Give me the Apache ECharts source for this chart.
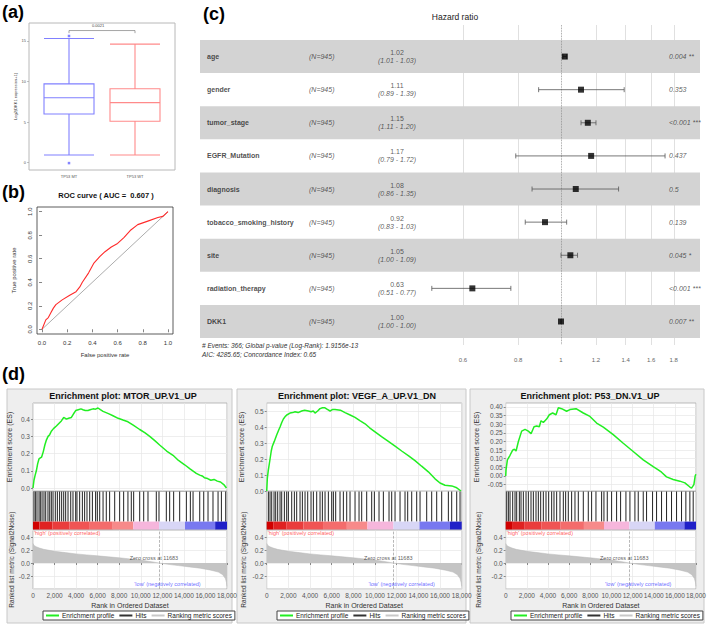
<!DOCTYPE html>
<html><head><meta charset="utf-8">
<script src="https://cdn.jsdelivr.net/npm/echarts@6/dist/echarts.min.js"></script>
<style>html,body{margin:0;padding:0;background:#fff}#c{width:709px;height:624px}</style>
</head><body><div id="c"></div>
<script>
// ---------- (a) box plot ----------
const boxCategories = ['TP53 MT', 'TP53 WT'];
const boxStats = [[0.95, 6.0, 8.0, 9.7, 15.3], [0.95, 5.1, 7.4, 9.1, 14.6]];
const boxOutliers = [[0, 15.6], [0, -0.05]];
const boxTicks = [0, 5, 10, 15];
const boxPValue = '0.0021';
// ---------- (b) ROC ----------
const rocCurve = [[0,0],[0.03,0.08],[0.05,0.10],[0.07,0.14],[0.09,0.18],[0.11,0.21],[0.16,0.25],[0.22,0.29],[0.27,0.32],[0.30,0.36],[0.32,0.40],[0.37,0.48],[0.41,0.56],[0.46,0.62],[0.50,0.66],[0.55,0.70],[0.60,0.73],[0.65,0.78],[0.70,0.84],[0.76,0.89],[0.84,0.92],[0.92,0.95],[0.96,0.96],[1,1]];
const rocAUC = '0.607';
const rocTicks = [0, 0.2, 0.4, 0.6, 0.8, 1.0];
// ---------- (c) forest ----------
const hrVars = ['age','gender','tumor_stage','EGFR_Mutation','diagnosis','tobacco_smoking_history','site','radiation_therapy','DKK1'];
const hrN = 945;
const hrEst = [1.02, 1.11, 1.15, 1.17, 1.08, 0.92, 1.05, 0.63, 1.00];
const hrLow = [1.01, 0.89, 1.11, 0.79, 0.86, 0.83, 1.00, 0.51, 1.00];
const hrHigh = [1.03, 1.39, 1.20, 1.72, 1.35, 1.03, 1.09, 0.77, 1.00];
const hrP = ['0.004 **','0.353','<0.001 ***','0.437','0.5','0.139','0.045 *','<0.001 ***','0.007 **'];
const hrTicks = [0.6, 0.8, 1, 1.2, 1.4, 1.6, 1.8];
const hrFooter = ['# Events: 366; Global p-value (Log-Rank): 1.9156e-13', 'AIC: 4285.65; Concordance Index: 0.65'];
// ---------- (d) GSEA ----------
const gseaTitles = ['Enrichment plot: MTOR_UP.V1_UP', 'Enrichment plot: VEGF_A_UP.V1_DN', 'Enrichment plot: P53_DN.V1_UP'];
const esCurve1 = [[0,0],[90,0.045],[200,0.075],[310,0.10],[430,0.14],[560,0.17],[680,0.175],[800,0.18],[950,0.21],[1100,0.25],[1250,0.28],[1400,0.30],[1550,0.31],[1700,0.33],[1900,0.345],[2170,0.36],[2400,0.375],[2630,0.39],[2850,0.41],[3000,0.405],[3100,0.40],[3300,0.405],[3560,0.41],[3750,0.43],[3960,0.45],[4200,0.455],[4450,0.46],[4640,0.455],[4850,0.45],[5100,0.45],[5300,0.455],[5570,0.46],[5800,0.458],[6030,0.465],[6250,0.455],[6500,0.445],[7000,0.432],[7420,0.42],[7900,0.405],[8350,0.395],[8810,0.385],[9300,0.365],[9900,0.34],[10400,0.32],[10830,0.30],[11300,0.275],[11750,0.25],[12400,0.215],[12990,0.19],[13500,0.16],[14070,0.135],[14600,0.11],[15150,0.085],[15470,0.075],[15700,0.07],[15900,0.06],[16200,0.055],[16500,0.045],[16800,0.05],[17100,0.04],[17400,0.035],[17700,0.02],[17950,0]];
const esCurve2 = [[0,0],[60,0.08],[150,0.13],[310,0.20],[420,0.25],[520,0.28],[700,0.31],[920,0.35],[1100,0.38],[1230,0.40],[1400,0.43],[1540,0.45],[1700,0.465],[1850,0.475],[2150,0.487],[2400,0.49],[2620,0.495],[2900,0.49],[3230,0.50],[3500,0.505],[3850,0.50],[4100,0.495],[4300,0.50],[4460,0.487],[4700,0.50],[4920,0.515],[5150,0.52],[5380,0.52],[5600,0.51],[5850,0.50],[6100,0.51],[6310,0.51],[6800,0.505],[7230,0.49],[7700,0.475],[8150,0.46],[8600,0.44],[9080,0.42],[9500,0.395],[10000,0.37],[10600,0.34],[11230,0.31],[11850,0.28],[12460,0.25],[13100,0.22],[13690,0.19],[14300,0.155],[14920,0.12],[15540,0.076],[16000,0.05],[16460,0.036],[17080,0.032],[17540,0.02],[17940,0]];
const esCurve3 = [[0,0],[30,0.035],[160,0.093],[410,0.12],[660,0.15],[820,0.155],[980,0.145],[1200,0.20],[1510,0.26],[1830,0.27],[2140,0.26],[2400,0.245],[2680,0.285],[2930,0.29],[3180,0.285],[3340,0.32],[3560,0.31],[3870,0.33],[4130,0.355],[4440,0.365],[4760,0.355],[4980,0.395],[5290,0.39],[5760,0.375],[6080,0.385],[6650,0.39],[7340,0.365],[7970,0.345],[8600,0.307],[9230,0.283],[10170,0.24],[11120,0.19],[12060,0.142],[13010,0.093],[13950,0.054],[14430,0.035],[14740,0.022],[15210,-0.005],[15840,-0.02],[16470,-0.03],[16950,-0.04],[17420,-0.064],[17580,-0.07],[17800,-0.05],[17920,0.0],[17990,0.01]];
const hits1 = [90,220,370,560,680,840,1020,1180,1390,1550,1700,1860,2070,2260,2470,2660,2850,3030,3250,3500,3710,3960,4080,4330,4580,4790,5010,5260,5510,5810,5970,6190,6500,6800,7110,7580,8040,8410,8810,9120,9340,9900,10270,10670,11440,11690,12370,12680,13050,13610,14230,14600,14850,15470,15840,16240,16700,17170,17480,17880];
const hits2 = [154,308,462,677,831,1015,1231,1385,1631,1846,2000,2308,2554,2769,3077,3292,3539,3785,4092,4308,4615,4923,5139,5385,5692,6000,6154,6369,6769,7077,7385,7692,8154,8523,8769,9231,9692,9938,10369,10769,11292,11538,11846,12308,12769,13015,13385,13846,14154,14769,15231,15692,16154,16769,17077,17539,17846];
const hits3 = [95,252,410,662,882,1040,1292,1449,1670,1922,2142,2394,2615,2867,3087,3308,3560,3812,4064,4347,4568,4820,5135,5450,5670,5922,6237,6552,6867,7340,7812,8127,8537,9072,9293,9608,10017,10490,10868,11372,11750,12222,12537,13010,13325,13892,14270,14742,15215,15687,16160,16632,17042,17420,17735];
const esTicks1 = [0, 0.1, 0.2, 0.3, 0.4];
const esTicks2 = [0, 0.1, 0.2, 0.3, 0.4, 0.5];
const esTicks3 = [-0.05, 0, 0.05, 0.1, 0.15, 0.2, 0.25, 0.3, 0.35, 0.4];
const metricCurve = [[0,0.30],[100,0.27],[300,0.25],[600,0.23],[1000,0.21],[1500,0.195],[2000,0.18],[3000,0.16],[4000,0.14],[5000,0.125],[6000,0.11],[7000,0.095],[8000,0.08],[9000,0.063],[10000,0.045],[11000,0.02],[11683,0],[12500,-0.02],[13500,-0.04],[14500,-0.06],[15500,-0.08],[16500,-0.11],[17200,-0.14],[17600,-0.18],[17850,-0.24],[17950,-0.30],[18000,-0.36]];
const zeroCross = 11683;
const colourBarBreaks = [0, 600, 1800, 3400, 5200, 7400, 9300, 11700, 14100, 16900, 18000];
const rankMax = 18000;

// ---------- styles ----------
const FF = '"Liberation Sans", Arial, sans-serif';
const colourBarColors = ['#d00000','#e02222','#ea3c3c','#f05454','#f46c6c','#f78a8a','#f6b6dc','#d8d6f6','#7878f0','#2020c8'];
const boxColors = ['#8080ff', '#ff8a8a'];

const chart = echarts.init(document.getElementById('c'), null, {renderer: 'svg', width: 709, height: 624});

const grids = [], xAxes = [], yAxes = [], series = [], graphics = [], legends = [];
function addGrid(g) { grids.push(Object.assign({outerBoundsMode: 'none', containLabel: false}, g)); return grids.length - 1; }

// ===== (a) =====
const gA0 = addGrid({left: 29, top: 23, width: 146, height: 147, show: true, borderColor: '#b8b8b8', borderWidth: 1, backgroundColor: '#fff'});
const gA1 = addGrid({left: 36, top: 23, width: 132, height: 147});
xAxes.push({gridIndex: gA0, type: 'value', min: 0, max: 1, show: false});
yAxes.push({gridIndex: gA0, type: 'value', min: -0.9, max: 17.2,
  axisLine: {show: false}, splitLine: {show: false},
  axisTick: {show: true, length: 2, lineStyle: {color: '#999', width: 0.6}, customValues: boxTicks},
  axisLabel: {fontSize: 4, color: '#555', margin: 3, customValues: boxTicks},
  name: 'Log2(DKK1 expression+1)', nameLocation: 'middle', nameGap: 8, nameTextStyle: {fontSize: 4, color: '#333'}});
xAxes.push({gridIndex: gA1, type: 'category', data: boxCategories, axisLine: {show: false}, axisTick: {show: false},
  axisLabel: {fontSize: 4, color: '#555', margin: 4}});
yAxes.push({gridIndex: gA1, type: 'value', min: -0.9, max: 17.2, show: false});
series.push({type: 'boxplot', xAxisIndex: 1, yAxisIndex: 1, boxWidth: [50, 50],
  data: boxStats.map((s, i) => ({value: s, itemStyle: {color: '#fff', borderColor: boxColors[i], borderWidth: 1.1}}))});
series.push({type: 'scatter', xAxisIndex: 1, yAxisIndex: 1, symbol: 'rect', symbolSize: 2.5,
  itemStyle: {color: '#6666ff'}, data: boxOutliers});
series.push({type: 'line', xAxisIndex: 1, yAxisIndex: 1, symbol: 'none', lineStyle: {color: '#666', width: 0.6},
  data: [[0, 15.95], [0, 16.27], [1, 16.27], [1, 15.95]]});
graphics.push({type: 'text', left: 92, top: 23.5, style: {text: boxPValue, fontSize: 4, fill: '#444', fontFamily: FF}});

// ===== (b) =====
const gB = addGrid({left: 37, top: 207, width: 136, height: 127, show: true, borderColor: '#333', borderWidth: 0.8});
xAxes.push({gridIndex: gB, type: 'value', min: -0.04, max: 1.04, axisLine: {show: false}, splitLine: {show: false},
  axisTick: {show: true, length: 3, lineStyle: {color: '#333', width: 0.6}, customValues: rocTicks},
  axisLabel: {fontSize: 6, color: '#333', margin: 6, customValues: rocTicks, formatter: v => v.toFixed(1)},
  name: 'False positive rate', nameLocation: 'middle', nameGap: 18, nameTextStyle: {fontSize: 6, color: '#333'}});
yAxes.push({gridIndex: gB, type: 'value', min: -0.04, max: 1.04, axisLine: {show: false}, splitLine: {show: false},
  axisTick: {show: true, length: 3, lineStyle: {color: '#333', width: 0.6}, customValues: rocTicks},
  axisLabel: {fontSize: 6, color: '#333', margin: 4, rotate: 90, customValues: rocTicks, formatter: v => v.toFixed(1)},
  name: 'True positive rate', nameLocation: 'middle', nameGap: 20, nameTextStyle: {fontSize: 6, color: '#333'}});
series.push({type: 'line', xAxisIndex: 2, yAxisIndex: 2, symbol: 'none', lineStyle: {color: '#888', width: 0.7},
  data: [[0, 0], [1, 1]]});
series.push({type: 'line', xAxisIndex: 2, yAxisIndex: 2, symbol: 'none', lineStyle: {color: '#ff2a2a', width: 1.1},
  data: rocCurve});
graphics.push({type: 'text', x: 106, y: 195, style: {text: 'ROC curve ( AUC =  ' + rocAUC + ' )', fontSize: 7.5, fontWeight: 'bold', fill: '#111', align: 'center', verticalAlign: 'middle', fontFamily: FF}});

// ===== (c) =====
const gC = addGrid({left: 200, top: 40, width: 500, height: 298});
const gF = addGrid({left: 428, top: 25, width: 266, height: 320});
xAxes.push({gridIndex: gC, type: 'value', min: 0, max: 500, show: false});
yAxes.push({gridIndex: gC, type: 'category', data: hrVars, inverse: true, show: false});
xAxes.push({gridIndex: gF, type: 'log', logBase: 10, min: 0.5, max: 2.0, show: false});
yAxes.push({gridIndex: gF, type: 'value', min: -0.953, max: 8.71, inverse: true, show: false});
const xiC = 3, xiF = 4;
series.push({type: 'bar', xAxisIndex: xiC, yAxisIndex: xiC, z: 1, barWidth: '100%', silent: true,
  itemStyle: {color: '#d3d3d3'}, data: hrVars.map((v, i) => i % 2 === 0 ? 500 : '-')});
series.push({type: 'scatter', xAxisIndex: xiC, yAxisIndex: xiC, symbolSize: 0, z: 5,
  label: {show: true, position: 'right', distance: 0, fontSize: 7, fontWeight: 'bold', color: '#222', formatter: p => hrVars[p.dataIndex]},
  data: hrVars.map((v, i) => [7, i])});
series.push({type: 'scatter', xAxisIndex: xiC, yAxisIndex: xiC, symbolSize: 0, z: 5,
  label: {show: true, position: 'right', distance: 0, fontSize: 7, fontStyle: 'italic', color: '#333', formatter: () => '(N=' + hrN + ')'},
  data: hrVars.map((v, i) => [109, i])});
series.push({type: 'scatter', xAxisIndex: xiC, yAxisIndex: xiC, symbolSize: 0, z: 5,
  label: {show: true, position: 'inside', fontSize: 7, color: '#333', lineHeight: 8,
    formatter: p => '{a|' + hrEst[p.dataIndex].toFixed(2) + '}\n{b|(' + hrLow[p.dataIndex].toFixed(2) + ' - ' + hrHigh[p.dataIndex].toFixed(2) + ')}',
    rich: {a: {fontSize: 7, color: '#333', lineHeight: 8}, b: {fontSize: 7, color: '#333', fontStyle: 'italic', lineHeight: 8}}},
  data: hrVars.map((v, i) => [197, i])});
series.push({type: 'scatter', xAxisIndex: xiC, yAxisIndex: xiC, symbolSize: 0, z: 5,
  label: {show: true, position: 'right', distance: 0, fontSize: 7, fontStyle: 'italic', color: '#333', formatter: p => hrP[p.dataIndex]},
  data: hrVars.map((v, i) => [469, i])});
series.push({type: 'custom', xAxisIndex: xiF, yAxisIndex: xiF, z: 4,
  encode: {x: [0, 1], y: 2},
  data: hrVars.map((v, i) => [hrLow[i], hrHigh[i], i]),
  renderItem: (params, api) => {
    const a = api.coord([api.value(0), api.value(2)]);
    const b = api.coord([api.value(1), api.value(2)]);
    const h = 2.5;
    const st = {stroke: '#555', lineWidth: 0.8};
    return {type: 'group', children: [
      {type: 'line', shape: {x1: a[0], y1: a[1], x2: b[0], y2: b[1]}, style: st},
      {type: 'line', shape: {x1: a[0], y1: a[1] - h, x2: a[0], y2: a[1] + h}, style: st},
      {type: 'line', shape: {x1: b[0], y1: b[1] - h, x2: b[0], y2: b[1] + h}, style: st}]};
  }});
series.push({type: 'scatter', xAxisIndex: xiF, yAxisIndex: xiF, z: 6, symbol: 'rect', symbolSize: 6,
  itemStyle: {color: '#000'}, data: hrEst.map((v, i) => [v, i]),
  markLine: {silent: true, symbol: 'none', z: 3,
    label: {show: true, position: 'end', distance: 12, fontSize: 6, color: '#666', formatter: p => String(p.value)},
    data: hrTicks.map(v => ({xAxis: v, lineStyle: v === 1 ? {type: 'dotted', color: '#888', width: 0.8} : {type: 'solid', color: '#d2d2d2', width: 0.7}}))}});
graphics.push({type: 'text', x: 455, y: 17, style: {text: 'Hazard ratio', fontSize: 8.5, fill: '#222', align: 'center', verticalAlign: 'middle', fontFamily: FF}});
hrFooter.forEach((t, i) => graphics.push({type: 'text', x: 202, y: 345 + i * 9.5, style: {text: t, fontSize: 6.5, fontStyle: 'italic', fill: '#333', verticalAlign: 'middle', fontFamily: FF}}));

// ===== (d) =====
const panels = [
  {bx: 7, bw: 225, L: 33, R: 227, esMin: -0.0174, esMax: 0.494, ticks: esTicks1, dec: 1, curve: esCurve1, hits: hits1, esGap: 20, tx: 123, lg: 43},
  {bx: 237, bw: 229, L: 266.7, R: 461.7, esMin: 0, esMax: 0.55, ticks: esTicks2, dec: 1, curve: esCurve2, hits: hits2, esGap: 22, tx: 357, lg: 277},
  {bx: 470, bw: 234, L: 505.7, R: 696, esMin: -0.087, esMax: 0.423, ticks: esTicks3, dec: 2, curve: esCurve3, hits: hits3, esGap: 26, tx: 590, lg: 511}
];
const hitsFloor = 0.208;
const gridLine = {show: true, lineStyle: {color: '#e6e6e6', width: 0.7}};
panels.forEach((p, k) => {
  graphics.push({type: 'rect', z: -10, shape: {x: p.bx, y: 389, width: p.bw, height: 234}, style: {fill: '#eeeeee', stroke: '#c8c8c8', lineWidth: 1}});
  graphics.push({type: 'text', x: p.tx, y: 396, z: 10, style: {text: gseaTitles[k], fontSize: 9, fontWeight: 'bold', fill: '#111', align: 'center', verticalAlign: 'middle', fontFamily: FF}});
  const W = p.R - p.L;
  const gE = addGrid({left: p.L, top: 403, width: W, height: 88, show: true, backgroundColor: '#fff', borderColor: '#aaa', borderWidth: 0.8});
  const gH = addGrid({left: p.L, top: 491.5, width: W, height: 38, show: true, backgroundColor: '#fff', borderColor: '#aaa', borderWidth: 0.8});
  const gM = addGrid({left: p.L, top: 530.5, width: W, height: 58.5, show: true, backgroundColor: '#fff', borderColor: '#aaa', borderWidth: 0.8});
  const xiE = xAxes.length;
  xAxes.push({gridIndex: gE, type: 'value', min: 0, max: rankMax, interval: 2000, axisLine: {show: false}, axisTick: {show: false}, axisLabel: {show: false}, splitLine: gridLine});
  yAxes.push({gridIndex: gE, type: 'value', min: p.esMin, max: p.esMax, axisLine: {show: false},
    axisTick: {show: true, length: 2, lineStyle: {color: '#888'}, customValues: p.ticks},
    axisLabel: {fontSize: 6.5, color: '#555', margin: 3, customValues: p.ticks, formatter: v => v.toFixed(p.dec)},
    splitLine: gridLine,
    name: 'Enrichment score (ES)', nameLocation: 'middle', nameGap: p.esGap, nameTextStyle: {fontSize: 7, color: '#333'}});
  series.push({type: 'line', name: 'Enrichment profile', xAxisIndex: xiE, yAxisIndex: xiE, symbol: 'none', color: '#22ee22',
    lineStyle: {color: '#22ee22', width: 1.5}, data: p.curve});
  const xiH = xAxes.length;
  xAxes.push({gridIndex: gH, type: 'value', min: 0, max: rankMax, show: false});
  yAxes.push({gridIndex: gH, type: 'value', min: 0, max: 1, show: false});
  series.push({type: 'custom', name: 'Hits', xAxisIndex: xiH, yAxisIndex: xiH, color: '#333', itemStyle: {color: '#333'},
    encode: {x: 0}, data: p.hits.map(r => [r]),
    renderItem: (params, api) => {
      const x = api.coord([api.value(0), 1]);
      const y0 = api.coord([0, hitsFloor])[1];
      return {type: 'line', shape: {x1: x[0], y1: x[1], x2: x[0], y2: y0}, style: {stroke: '#222', lineWidth: 1}};
    }});
  series.push({type: 'custom', xAxisIndex: xiH, yAxisIndex: xiH, encode: {x: [0, 1]},
    data: colourBarBreaks.slice(0, -1).map((b, i) => [b, colourBarBreaks[i + 1], i]),
    renderItem: (params, api) => {
      const a = api.coord([api.value(0), hitsFloor]);
      const b = api.coord([api.value(1), 0]);
      return {type: 'rect', shape: {x: a[0], y: a[1], width: b[0] - a[0], height: b[1] - a[1]}, style: {fill: colourBarColors[api.value(2)]}};
    }});
  const xiM = xAxes.length;
  xAxes.push({gridIndex: gM, type: 'value', min: 0, max: rankMax, interval: 2000, axisLine: {show: false},
    axisTick: {show: true, length: 2, lineStyle: {color: '#888'}},
    axisLabel: {fontSize: 6.5, color: '#555', margin: 3, formatter: v => v.toLocaleString('en-US')},
    splitLine: gridLine,
    name: 'Rank in Ordered Dataset', nameLocation: 'middle', nameGap: 13, nameTextStyle: {fontSize: 7, color: '#333'}});
  yAxes.push({gridIndex: gM, type: 'value', min: -0.4, max: 0.5, interval: 0.2, axisLine: {show: false},
    axisTick: {show: true, length: 2, lineStyle: {color: '#888'}},
    axisLabel: {fontSize: 6.5, color: '#555', margin: 3, showMinLabel: false, showMaxLabel: false, formatter: v => v.toFixed(1)},
    splitLine: gridLine,
    name: 'Ranked list metric (Signal2Noise)', nameLocation: 'middle', nameGap: p.esGap - 2, nameTextStyle: {fontSize: 6.5, color: '#333'}});
  series.push({type: 'line', name: 'Ranking metric scores', xAxisIndex: xiM, yAxisIndex: xiM, symbol: 'none', color: '#c8c8c8',
    lineStyle: {color: '#b8b8b8', width: 0.5}, areaStyle: {color: '#c4c4c4', opacity: 1}, data: metricCurve,
    markLine: {silent: true, symbol: 'none', label: {show: false}, lineStyle: {color: '#999', type: 'dashed', width: 0.7}, data: [{xAxis: zeroCross}]}});
  series.push({type: 'scatter', xAxisIndex: xiM, yAxisIndex: xiM, symbolSize: 0, z: 6,
    data: [
      {value: [zeroCross, 0.0], label: {show: true, position: 'top', distance: 2, offset: [-5, 0], fontSize: 5.5, color: '#333', formatter: 'Zero cross at ' + zeroCross}},
      {value: [0, 0.5], label: {show: true, position: 'right', distance: 1, offset: [0, 2.5], fontSize: 5.5, color: '#ff3333', formatter: "'high' (positively correlated)"}},
      {value: [9400, -0.32], label: {show: true, position: 'right', distance: 0, fontSize: 5.5, color: '#4444ff', formatter: "'low' (negatively correlated)"}}
    ]});
  legends.push({left: p.lg, top: 611, width: 190, orient: 'horizontal', data: ['Enrichment profile', 'Hits', 'Ranking metric scores'],
    icon: 'rect', itemWidth: 13, itemHeight: 2, itemGap: 5, padding: [1, 3], backgroundColor: '#fff', borderColor: '#444', borderWidth: 1,
    selectedMode: false, textStyle: {fontSize: 6.5, color: '#222', fontFamily: FF, padding: [0, 0, 0, -2]}});
});

[['(a)', 2, 12], ['(b)', 2, 192], ['(c)', 203, 14], ['(d)', 2, 374]].forEach(t =>
  graphics.push({type: 'text', x: t[1], y: t[2], z: 20, style: {text: t[0], fontSize: 18, fontWeight: 'bold', fill: '#000', verticalAlign: 'middle', fontFamily: FF}}));

chart.setOption({
  animation: false,
  backgroundColor: '#fff',
  textStyle: {fontFamily: FF},
  grid: grids, xAxis: xAxes, yAxis: yAxes, legend: legends, graphic: graphics, series: series
});
</script></body></html>
